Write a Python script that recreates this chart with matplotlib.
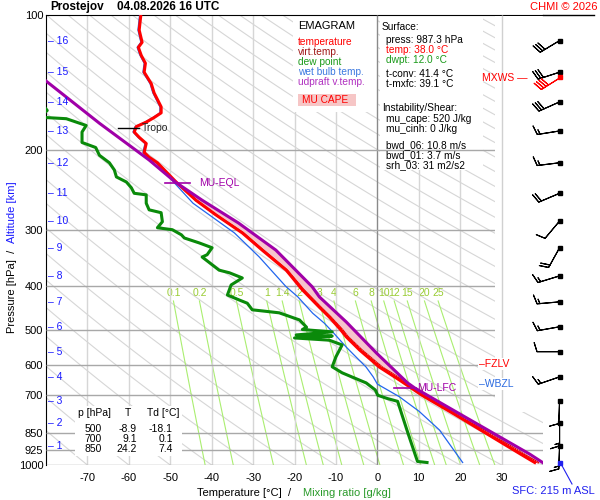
import numpy as np
import matplotlib
matplotlib.use('Agg')
import matplotlib.pyplot as plt
from matplotlib.patches import Rectangle
from matplotlib.lines import Line2D
from matplotlib.transforms import Affine2D

plt.rcParams['font.family'] = ['Liberation Sans', 'DejaVu Sans']
plt.rcParams['axes.unicode_minus'] = False

# sounding: pressure [hPa], temperature [C]
temp_p = [100, 108, 115, 118, 123, 128, 134, 142, 149, 160, 165, 169, 173, 177, 182, 187, 193, 202, 207, 213,
          223, 235, 258, 278, 305, 333, 369, 408, 446, 469, 500, 519, 555, 606, 647, 700, 771, 854, 946, 987.3]
temp_t = [-57.1, -57.5, -56.8, -57.7, -57.0, -56.0, -56.3, -54.6, -53.9, -52.2, -52.2, -53.9, -55.8, -58.2, -58.7,
          -57.5, -55.8, -56.3, -55.1, -53.1, -51.0, -48.6, -43.8, -39.0, -32.6, -27.8, -22.0, -18.1, -14.0, -11.6,
          -8.9, -7.5, -4.3, 0.5, 5.3, 10.8, 18.6, 26.6, 34.6, 38.0]

virt_p = [235, 258, 278, 305, 333, 369, 408, 446, 469, 500, 519, 555, 606, 647, 700, 771, 854, 946, 987.3]
virt_t = [-48.6, -43.8, -39.0, -32.4, -27.6, -21.8, -17.8, -13.7, -11.3, -8.5, -7.1, -3.8, 1.1, 6.0, 11.5,
          19.3, 27.4, 35.4, 38.8]

dew_p = [150, 157, 160, 163, 165, 167, 169, 170, 176, 182, 192, 197, 205, 213, 221, 229, 235, 242, 249, 251,
         262, 271, 275, 288, 297, 300, 308, 313, 321, 329, 341, 345, 369, 374, 384, 398, 419, 430, 437, 452,
         459, 476, 494, 500, 506, 514, 517, 522, 528, 541, 575, 605, 624, 657, 681, 700, 712, 722, 781, 850,
         958, 982, 987.3]
dew_t = [-86, -81, -80.4, -79.7, -80.4, -82, -80.0, -75.1, -70.3, -71.3, -71.3, -68.0, -67.1, -64.7, -63.5, -63.0,
         -60.6, -59.4, -58.7, -55.8, -55.8, -55.1, -52.2, -51.9, -53.1, -49.5, -47.3, -46.6, -43.0, -39.9,
         -41.1, -42.3, -38.2, -35.7, -32.6, -35.3, -36.2, -33.3, -31.4, -30.2, -23.7, -18.8, -17.1, -18.1,
         -10.9, -19.6, -10.9, -20.0, -11.6, -8.5, -10.0, -10.9, -8.5, -2.7, -0.5, 0.1, 2.5, 4.9, 6.1, 7.4,
         9.3, 9.7, 12.0]

wet_p = [100, 108, 115, 118, 123, 128, 134, 142, 149, 160, 165, 169, 173, 177, 182, 187, 193, 202, 207, 213,
         223, 235, 262, 305, 345, 401, 423, 460, 484, 506, 547, 565, 606, 637, 661, 705, 760, 836, 987.3]
wet_t = [-57.4, -57.8, -57.1, -58.0, -57.3, -56.3, -56.6, -54.9, -54.2, -52.5, -52.5, -54.2, -56.1, -58.5, -59.0,
         -57.8, -56.1, -56.6, -55.4, -53.4, -51.3, -49.2, -44.5, -34.5, -28.5, -22.1, -19.2, -15.6, -12.8, -10.8,
         -7.5, -6.0, -2.7, -1.0, 0.0, 5.3, 10.1, 15.0, 20.6]

parcel_p = [139, 174, 210, 235, 258, 290, 333, 402, 423, 481, 564, 657, 674, 771, 854, 946, 987.3]
parcel_t = [-80.5, -67.1, -55.1, -48.8, -42.3, -33.5, -24.5, -15.7, -14.0, -7.5, -0.2, 7.3, 9.0, 20.0, 28.4,
            36.8, 39.9]

# levels
p_eql, p_lfc, p_tropo, p_fzlv, p_wbzl = 236, 674, 178, 596, 661
p_sfc = 987.3

# altitude scale (km) and winds at each km
alt_km = list(range(1, 17))
alt_p = [909, 808, 721, 637, 560, 493, 434, 380, 329, 287, 249, 213, 181, 156, 134, 114]
wind_dir = [182, 180, 182, 251, 270, 260, 265, 253, 209, 220, 247, 263, 261, 246, 252, 239]
wind_spd = [7.5, 7.5, 5, 7.5, 5, 7.5, 7.5, 7.5, 10, 5, 10, 7.5, 7.5, 15, 15, 15]
mxws_p, mxws_dir, mxws_spd = 137.4, 238, 20

mix_ratios = [0.1, 0.2, 0.5, 1, 1.4, 2, 3, 4, 6, 8, 10, 12, 15, 20, 25]
p_levels = [200, 300, 400, 500, 600, 700]
p_levels_low = [850, 925, 1000]
p_ticks = [100, 200, 300, 400, 500, 600, 700, 850, 925, 1000]

table_p = [500, 700, 850]
table_t = [-8.9, 9.1, 24.2]
table_td = [-18.1, 0.1, 7.4]

stats = [("Surface:", 'k', 0), ("press: 987.3 hPa", 'k', 1), ("temp: 38.0 \u00b0C", 'red', 1),
         ("dwpt: 12.0 \u00b0C", '#1a9a1a', 1), ("t-conv: 41.4 \u00b0C", 'k', 1), ("t-mxfc: 39.1 \u00b0C", 'k', 1),
         ("Instability/Shear:", 'k', 0), ("mu_cape: 520 J/kg", 'k', 1), ("mu_cinh: 0 J/kg", 'k', 1),
         ("bwd_06: 10.8 m/s", 'k', 1), ("bwd_01: 3.7 m/s", 'k', 1), ("srh_03: 31 m2/s2", 'k', 1)]
stats_y = [27, 40, 50, 60, 74, 84, 108, 119, 129, 145, 155, 165]

legend = [("temperature", 'red'), ("virt.temp.", '#a01818'), ("dew point", '#1a9a1a'),
          ("wet bulb temp.", '#3a78e0'), ("udpraft v.temp.", '#b030c0')]

fig = plt.figure(figsize=(6, 5), dpi=100)
pix = Affine2D().scale(1 / 600, -1 / 500).translate(0, 1) + fig.transFigure
ax = fig.add_axes([46 / 600, 35 / 500, 497 / 600, 450 / 500])
ax.set_autoscale_on(False)
ax.set_yscale('log')
ax.set_xlim(-80, 40)
ax.set_ylim(1000, 100)

# dry adiabats
pp = np.geomspace(100, 1000, 120)
for th in range(-90, 350, 10):
    ax.plot((th + 273.15) * (pp / 1000) ** 0.2857 - 273.15, pp, color='#d6d6d6', lw=0.8, zorder=1)

# mixing ratio lines
pm = np.linspace(432, 1000, 60)
for w in mix_ratios:
    e = w * pm / (622 + w)
    le = np.log(e / 6.112)
    tm = 243.5 * le / (17.67 - le)
    ax.plot(tm, pm, color='#aaee70', lw=0.8, zorder=1)
    ax.text(tm[0], 415, f'{w:g}', color='#99cc33', fontsize=7.5, ha='center', va='center', zorder=1)

# isotherms
for t in range(-70, 31, 10):
    if t == 0:
        ax.vlines(t, 100, 1000, color='#8a8a8a', lw=1, zorder=3)
    elif t == 30:
        ax.vlines(t, 100, 1000, color='#d0d0d0', lw=1, zorder=5)
    else:
        ax.vlines(t, 100, 1000, color='#d6d6d6', lw=1, zorder=1)

ax.hlines(p_levels, -80, 28.3, color='#a8a8a8', lw=1, zorder=3)
ax.hlines(p_levels_low, -80, 40, color='#a8a8a8', lw=1, zorder=3)

# white panels
ax.add_patch(Rectangle((293, 15), 84, 97, transform=pix, fc='white', ec='none', zorder=2, clip_on=False))
ax.add_patch(Rectangle((380, 15), 103, 155, transform=pix, fc='white', ec='none', zorder=2, clip_on=False))
ax.add_patch(Rectangle((495, 16), 105, 396, transform=pix, fc='white', ec='none', zorder=4, clip_on=False))
ax.add_patch(Rectangle((75, 406), 107, 50, transform=pix, fc='white', ec='none', zorder=4, clip_on=False))

# CAPE area
cape_t = [t for t, p in zip(parcel_t, parcel_p) if p_eql - 1 <= p <= 681]
cape_p = [p for p in parcel_p if p_eql - 1 <= p <= 681]
env_t = [t for t, p in zip(virt_t, virt_p) if p_eql - 1 <= p <= 681][::-1]
env_p = [p for p in virt_p if p_eql - 1 <= p <= 681][::-1]
ax.fill(cape_t + env_t, cape_p + env_p, color='#f6c4cc', lw=0, zorder=6)

ax.plot(wet_t, wet_p, color='#2266ee', lw=0.9, zorder=7)
ax.plot(dew_t, dew_p, color='#0a8a0a', lw=2.2, zorder=7)
ax.plot(virt_t, virt_p, color='#e00000', lw=1.4, zorder=8)
ax.plot(virt_t, virt_p, color='white', lw=0.5, ls=(0, (1, 2)), zorder=8)
ax.plot(temp_t, temp_p, color='#ff0000', lw=2.2, zorder=8)
ax.plot(parcel_t, parcel_p, color='#a000a8', lw=2.2, zorder=9)

# level markers
ax.plot([-62.6, -57.5], [p_tropo, p_tropo], color='k', lw=1, zorder=10)
ax.text(-56.8, p_tropo, 'Tropo', fontsize=7.5, color='#222222', va='center', zorder=10)
ax.plot([-51.2, -45.2], [p_eql, p_eql], color='#a000a8', lw=1.2, zorder=10)
ax.text(-43.0, p_eql, 'MU-EQL', fontsize=7.5, color='#a000a8', va='center', zorder=10)
ax.plot([4.1, 9.4], [p_lfc, p_lfc], color='#a000a8', lw=1.2, zorder=10)
ax.text(9.7, p_lfc, 'MU-LFC', fontsize=7.5, color='#a000a8', va='center', zorder=10)
ax.text(24.6, p_fzlv, '\u2013FZLV', fontsize=7.5, color='red', va='center', zorder=10,
        bbox=dict(fc='white', ec='none', pad=1))
ax.text(24.6, p_wbzl, '\u2013WBZL', fontsize=7.5, color='#2a6ae0', va='center', zorder=10,
        bbox=dict(fc='white', ec='none', pad=1))

# altitude scale
for km, p in zip(alt_km, alt_p):
    ax.text(-79.6, p, f'\u2013 {km}', color='#1a1aff', fontsize=7.5, va='center', zorder=10)

# winds
inc = dict(half=2.5, full=5, flag=25)
wd = np.radians(wind_dir)
u = -np.array(wind_spd) * np.sin(wd)
v = -np.array(wind_spd) * np.cos(wd)
ax.barbs(np.full(len(alt_p), 44.0), alt_p, u, v, length=5.7, lw=0.8, color='k',
         barb_increments=inc, clip_on=False, zorder=11)
ax.plot(np.full(len(alt_p), 44.0), alt_p, 's', ms=2.5, color='k', clip_on=False, zorder=11)
md = np.radians(mxws_dir)
ax.barbs([44.0], [mxws_p], [-mxws_spd * np.sin(md)], [-mxws_spd * np.cos(md)], length=5.7, lw=0.8,
         color='red', barb_increments=inc, clip_on=False, zorder=11)
ax.plot([44.0], [mxws_p], 's', ms=2.5, color='red', clip_on=False, zorder=11)
ax.plot([44.0], [p_sfc], 's', ms=2.5, color='#2020ee', clip_on=False, zorder=11)
ax.add_line(Line2D([560, 572], [462, 484], transform=pix, color='#2020ee', lw=0.8, clip_on=False, zorder=11))
fig.text(512, 491, 'SFC: 215 m ASL', transform=pix, color='#2020ee', fontsize=8, va='center')
fig.text(527, 78, 'MXWS \u2014', transform=pix, color='red', fontsize=7.5, va='center', ha='right')

# legend panel
ax.text(298, 26, 'EMAGRAM', transform=pix, fontsize=8, va='center', zorder=10)
for i, (name, col) in enumerate(legend):
    ax.text(298, 42 + 10 * i, name, transform=pix, fontsize=7.3, color=col, va='center', zorder=10)
ax.add_patch(Rectangle((298, 94), 58, 12, transform=pix, fc='#f6c6c6', ec='none', zorder=9, clip_on=False))
ax.text(302, 100, 'MU CAPE', transform=pix, fontsize=7.3, color='red', va='center', zorder=10)

# stats panel
for (txt, col, ind), y in zip(stats, stats_y):
    ax.text(382 + 4 * ind, y, txt, transform=pix, fontsize=7.3, color=col, va='center', zorder=10)

# table
for x, h in zip([78, 125, 147], ['p [hPa]', 'T', 'Td [\u00b0C]']):
    ax.text(x, 413, h, transform=pix, fontsize=7.5, va='center', zorder=10)
for i, (p, t, td) in enumerate(zip(table_p, table_t, table_td)):
    y = 429 + 10 * i
    ax.text(102, y, f'{p}', transform=pix, fontsize=7.5, va='center', ha='right', zorder=10)
    ax.text(137, y, f'{t:.1f}', transform=pix, fontsize=7.5, va='center', ha='right', zorder=10)
    ax.text(173, y, f'{td:.1f}', transform=pix, fontsize=7.5, va='center', ha='right', zorder=10)

# axes styling
ax.set_yticks(p_ticks)
ax.set_yticklabels([str(p) for p in p_ticks])
ax.yaxis.set_minor_locator(matplotlib.ticker.NullLocator())
ax.set_xticks(range(-70, 31, 10))
ax.tick_params(axis='both', length=0, labelsize=8)
ax.tick_params(axis='x', pad=6)
ax.tick_params(axis='y', pad=2)
for s in ['right', 'bottom']:
    ax.spines[s].set_visible(False)
ax.spines['left'].set_color('k')
ax.spines['top'].set_color('k')
fig.add_artist(Line2D([543, 594], [15, 15], transform=pix, color='k', lw=1))

fig.text(50, 7, 'Prostejov', transform=pix, fontsize=8.5, fontweight='bold', va='center')
fig.text(117, 7, '04.08.2026 16 UTC', transform=pix, fontsize=8.5, fontweight='bold', va='center')
fig.text(597, 7, 'CHMI \u00a9 2026', transform=pix, fontsize=8, color='red', va='center', ha='right')

fig.text(197, 493, 'Temperature [\u00b0C]  /', transform=pix, fontsize=8, va='center')
fig.text(303, 493, 'Mixing ratio [g/kg]', transform=pix, fontsize=8, va='center', color='#2a9a2a')
fig.text(12, 333, 'Pressure [hPa]  /', transform=pix, fontsize=8, rotation=90, rotation_mode='anchor',
         ha='left', va='center')
fig.text(12, 243, 'Altitude [km]', transform=pix, fontsize=8, rotation=90, rotation_mode='anchor',
         ha='left', va='center', color='#1a1aff')

fig.savefig('out.png', dpi=100)
